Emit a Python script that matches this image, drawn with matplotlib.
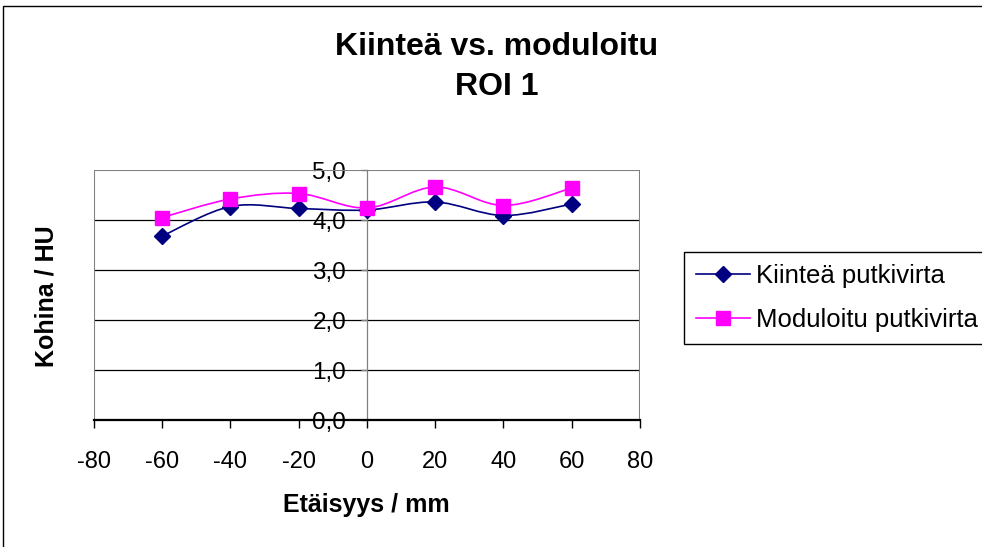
import matplotlib
matplotlib.use("Agg")
import matplotlib.pyplot as plt
from matplotlib.path import Path
from matplotlib.patches import PathPatch, Rectangle
from matplotlib.lines import Line2D

# data
etaisyys = [-60, -40, -20, 0, 20, 40, 60]
kiintea = [3.68, 4.27, 4.23, 4.20, 4.36, 4.09, 4.32]
moduloitu = [4.05, 4.42, 4.53, 4.24, 4.66, 4.29, 4.64]
series_names = ["Kiinteä putkivirta", "Moduloitu putkivirta"]
xticks = [-80, -60, -40, -20, 0, 20, 40, 60, 80]
yticks = [0, 1, 2, 3, 4, 5]
ytick_labels = ["0,0", "1,0", "2,0", "3,0", "4,0", "5,0"]

FONT = "Liberation Sans"
plt.rcParams["font.family"] = [FONT, "DejaVu Sans"]


def smooth_path(xs, ys):
    """Excel style smoothed line as cubic bezier segments (catmull-rom)"""
    pts = list(zip(xs, ys))
    n = len(pts)
    verts = [pts[0]]
    codes = [Path.MOVETO]
    for i in range(n - 1):
        p0 = pts[i - 1] if i > 0 else pts[i]
        p1 = pts[i]
        p2 = pts[i + 1]
        p3 = pts[i + 2] if i + 2 < n else pts[i + 1]
        c1 = (p1[0] + (p2[0] - p0[0]) / 6, p1[1] + (p2[1] - p0[1]) / 6)
        c2 = (p2[0] - (p3[0] - p1[0]) / 6, p2[1] - (p3[1] - p1[1]) / 6)
        verts += [c1, c2, p2]
        codes += [Path.CURVE4] * 3
    return Path(verts, codes)


fig = plt.figure(figsize=(9.82, 5.47), dpi=100)
ax = fig.add_axes([94 / 982, 1 - 420 / 547, 546 / 982, 250 / 547])

ax.set_xlim(-80, 80)
ax.set_ylim(0, 5)

styles = [
    dict(color="#000080", marker="D", ms=8, mec="#000080"),
    dict(color="#FF00FF", marker="s", ms=9.5, mec="#FF00FF"),
]
handles = []
for ys, st, name in zip([kiintea, moduloitu], styles, series_names):
    ax.add_patch(PathPatch(smooth_path(etaisyys, ys), fill=False,
                           edgecolor=st["color"], lw=1.2, zorder=4))
    ax.plot(etaisyys, ys, linestyle="none", marker=st["marker"],
            ms=st["ms"], color=st["color"], mec=st["mec"], zorder=5, clip_on=False)
    handles.append(Line2D([], [], color=st["color"], lw=1.2, marker=st["marker"],
                          ms=st["ms"], mec=st["mec"]))

# gridlines
for y in yticks[1:-1]:
    ax.axhline(y, color="black", lw=0.9, zorder=1)
ax.add_patch(Rectangle((0, 0), 1, 1, transform=ax.transAxes, fill=False,
                       edgecolor="#808080", lw=1.5, zorder=2))

# axes: y axis crossing at x=0
for s in ["top", "right"]:
    ax.spines[s].set_visible(False)
ax.spines["left"].set_position(("data", 0))
ax.spines["left"].set_color("#808080")
ax.spines["left"].set_linewidth(0.9)
ax.spines["bottom"].set_color("black")
ax.spines["bottom"].set_linewidth(1.6)
ax.spines["bottom"].set_zorder(3)

ax.set_xticks(xticks)
ax.set_xticklabels([str(x) for x in xticks], fontsize=17)
ax.set_yticks(yticks)
ax.set_yticklabels(ytick_labels, fontsize=17.5)
ax.tick_params(axis="x", direction="out", length=6, width=1, color="black", pad=16)
ax.tick_params(axis="y", direction="out", length=4, width=1, color="#808080", pad=11)

fig.text(497 / 982, 1 - 47 / 547, "Kiinteä vs. moduloitu", ha="center", va="center",
         fontsize=23, fontweight="bold")
fig.text(497 / 982, 1 - 87 / 547, "ROI 1", ha="center", va="center",
         fontsize=23, fontweight="bold")
fig.text(366 / 982, 1 - 505 / 547, "Etäisyys / mm", ha="center", va="center",
         fontsize=18, fontweight="bold")
fig.text(47 / 982, 1 - 296 / 547, "Kohina / HU", ha="center", va="center",
         fontsize=18, fontweight="bold", rotation=90)

leg = fig.legend(handles, series_names, loc="upper left",
                 bbox_to_anchor=(684 / 982, 1 - 252 / 547), fontsize=18.5,
                 frameon=True, fancybox=False, edgecolor="black", framealpha=1,
                 handlelength=2.1, handletextpad=0.25, borderpad=0.45,
                 labelspacing=0.8, borderaxespad=0)
leg.get_frame().set_linewidth(1)

# chart border
fig.patches.append(Rectangle((3 / 982, -0.1), 1.2, 1.1 - 6 / 547, transform=fig.transFigure,
                             fill=False, edgecolor="black", lw=1))

fig.savefig("out.png", dpi=100)
